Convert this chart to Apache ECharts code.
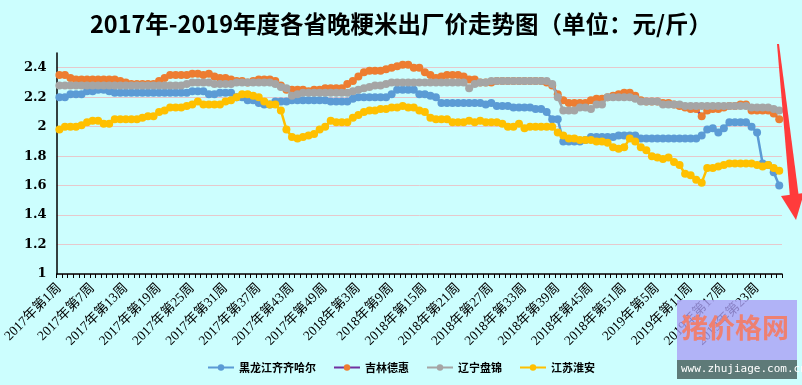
<!DOCTYPE html>
<html><head><meta charset="utf-8">
<script src="https://cdn.jsdelivr.net/npm/echarts@6/dist/echarts.min.js"></script>
<style>html,body{margin:0;padding:0;background:#ccfefe;}#c{width:802px;height:385px;}</style>
</head><body><div id="c"></div>
<script>
var titleText = '2017年-2019年度各省晚粳米出厂价走势图（单位：元/斤）';
var yearWeeks = [[2017, 52], [2018, 52], [2019, 27]];
var seriesNames = ['黑龙江齐齐哈尔', '吉林德惠', '辽宁盘锦', '江苏淮安'];

var heilongjiang = [
2.20,2.20,2.22,2.22,2.22,2.24,2.24,2.25,2.25,2.24,2.23,2.23,2.23,2.23,2.23,2.23,2.23,2.23,2.23,2.23,
2.23,2.23,2.23,2.23,2.24,2.24,2.24,2.22,2.22,2.23,2.23,2.23,2.20,2.20,2.18,2.18,2.16,2.15,2.15,2.17,
2.17,2.17,2.18,2.18,2.18,2.18,2.18,2.18,2.18,2.17,2.17,2.17,2.17,2.19,2.20,2.20,2.20,2.20,2.20,2.20,
2.22,2.25,2.25,2.25,2.25,2.22,2.22,2.21,2.20,2.16,2.16,2.16,2.16,2.16,2.16,2.16,2.16,2.15,2.16,2.14,
2.14,2.14,2.13,2.13,2.13,2.13,2.12,2.12,2.10,2.05,2.05,1.90,1.90,1.90,1.90,1.91,1.93,1.93,1.93,1.93,
1.93,1.94,1.94,1.94,1.94,1.92,1.92,1.92,1.92,1.92,1.92,1.92,1.92,1.92,1.92,1.92,1.94,1.98,1.99,1.96,
1.99,2.03,2.03,2.03,2.03,2.00,1.96,1.75,1.74,1.69,1.60];
var jilin = [
2.35,2.35,2.33,2.32,2.32,2.32,2.32,2.32,2.32,2.32,2.32,2.31,2.30,2.29,2.29,2.29,2.29,2.29,2.31,2.33,
2.35,2.35,2.35,2.35,2.36,2.36,2.35,2.36,2.34,2.33,2.33,2.32,2.31,2.31,2.30,2.31,2.32,2.32,2.32,2.31,
2.28,2.25,2.25,2.25,2.25,2.24,2.25,2.25,2.26,2.26,2.26,2.26,2.29,2.31,2.34,2.37,2.38,2.38,2.38,2.39,
2.40,2.41,2.42,2.42,2.40,2.40,2.37,2.35,2.33,2.34,2.35,2.35,2.35,2.34,2.32,2.32,2.30,2.30,2.30,2.31,
2.31,2.31,2.31,2.31,2.31,2.31,2.31,2.31,2.30,2.28,2.22,2.18,2.16,2.16,2.16,2.16,2.18,2.19,2.19,2.20,
2.21,2.22,2.23,2.23,2.21,2.18,2.17,2.17,2.17,2.16,2.16,2.15,2.14,2.13,2.12,2.12,2.07,2.11,2.12,2.12,
2.13,2.14,2.14,2.15,2.15,2.11,2.11,2.11,2.11,2.09,2.05];
var liaoning = [
2.28,2.28,2.28,2.28,2.28,2.28,2.28,2.28,2.28,2.28,2.28,2.28,2.28,2.28,2.28,2.28,2.28,2.28,2.28,2.28,
2.28,2.28,2.28,2.29,2.30,2.30,2.30,2.30,2.29,2.29,2.29,2.29,2.30,2.30,2.30,2.30,2.30,2.30,2.30,2.29,
2.27,2.26,2.21,2.22,2.23,2.23,2.23,2.23,2.23,2.23,2.23,2.23,2.23,2.24,2.25,2.26,2.27,2.28,2.28,2.29,
2.30,2.30,2.30,2.30,2.30,2.30,2.30,2.30,2.30,2.30,2.30,2.30,2.30,2.30,2.26,2.29,2.30,2.30,2.31,2.31,
2.31,2.31,2.31,2.31,2.31,2.31,2.31,2.31,2.31,2.29,2.20,2.11,2.11,2.11,2.13,2.13,2.12,2.15,2.15,2.20,
2.20,2.20,2.20,2.20,2.19,2.17,2.17,2.17,2.17,2.15,2.15,2.15,2.15,2.14,2.14,2.14,2.14,2.14,2.14,2.14,
2.14,2.14,2.14,2.14,2.14,2.13,2.13,2.13,2.13,2.12,2.11];
var jiangsu = [
1.98,2.00,2.00,2.00,2.01,2.03,2.04,2.04,2.02,2.02,2.05,2.05,2.05,2.05,2.05,2.06,2.07,2.07,2.10,2.11,
2.13,2.13,2.13,2.14,2.15,2.17,2.15,2.15,2.15,2.15,2.17,2.18,2.20,2.22,2.22,2.21,2.20,2.17,2.15,2.15,
2.11,1.98,1.93,1.92,1.93,1.94,1.95,1.98,2.00,2.04,2.03,2.03,2.03,2.06,2.08,2.10,2.11,2.11,2.12,2.12,
2.13,2.13,2.14,2.13,2.13,2.11,2.10,2.06,2.05,2.05,2.05,2.03,2.03,2.03,2.04,2.03,2.04,2.03,2.03,2.03,
2.02,2.00,2.00,2.02,1.99,2.00,2.00,2.00,2.00,2.00,1.96,1.94,1.92,1.92,1.91,1.91,1.91,1.90,1.90,1.89,
1.86,1.85,1.86,1.92,1.90,1.86,1.84,1.80,1.79,1.78,1.79,1.76,1.74,1.68,1.67,1.64,1.62,1.72,1.72,1.73,
1.74,1.75,1.75,1.75,1.75,1.75,1.74,1.73,1.74,1.72,1.70];

var categories = [];
yearWeeks.forEach(function (yw) {
  for (var w = 1; w <= yw[1]; w++) categories.push(yw[0] + '年第' + w + '周');
});

var lineColors = ['#5b9bd5', '#7030a0', '#a5a5a5', '#ffc000'];
var markColors = ['#5b9bd5', '#ed7d31', '#a5a5a5', '#ffc000'];
var dataSets = [heilongjiang, jilin, liaoning, jiangsu];

var chart = echarts.init(document.getElementById('c'), null, {renderer: 'canvas'});
chart.setOption({
  backgroundColor: '#ccfefe',
  animation: false,
  title: {
    text: titleText, left: 'center', top: 7,
    textStyle: {fontFamily: 'Noto Sans CJK SC', fontWeight: 'bold', fontSize: 23.5, color: '#000'}
  },
  legend: {
    bottom: 7, left: 'center', itemWidth: 26, itemHeight: 8, itemGap: 17,
    textStyle: {fontFamily: 'Noto Sans CJK SC', fontWeight: 'bold', fontSize: 11, color: '#000'},
    data: seriesNames
  },
  grid: {left: 55, right: 20, top: 53, bottom: 111},
  xAxis: {
    type: 'category', data: categories, boundaryGap: true,
    axisLine: {lineStyle: {color: '#000', width: 1.5}},
    axisTick: {show: true, interval: 0, length: 4, lineStyle: {color: '#000'}},
    axisLabel: {interval: 5, rotate: 45, margin: 12, color: '#000', fontSize: 13.5,
      fontFamily: "'Liberation Serif', 'Noto Sans CJK SC'"},
    splitLine: {show: false}
  },
  yAxis: {
    type: 'value', min: 1, max: 2.5, interval: 0.2,
    axisLine: {show: true, lineStyle: {color: '#000', width: 1.5}},
    axisTick: {show: false},
    axisLabel: {showMaxLabel: false, margin: 10, color: '#000', fontSize: 13, fontWeight: 'bold',
      fontFamily: "'DejaVu Serif'", formatter: function (v) { return String(Math.round(v * 10) / 10); }},
    splitLine: {show: true, showMaxLine: false, lineStyle: {color: '#e6c8cc', width: 1}}
  },
  series: seriesNames.map(function (n, k) {
    return {
      name: n, type: 'line', data: dataSets[k], symbol: 'circle', symbolSize: 8, showAllSymbol: true,
      lineStyle: {color: lineColors[k], width: 2.5},
      itemStyle: {color: markColors[k], borderWidth: 0},
      z: 2 + k
    };
  }),
  graphic: [
    {type: 'polygon', z: 100, shape: {points: [[777, 44], [779, 44], [799, 198], [790, 198]]}, style: {fill: '#ff3b3b'}},
    {type: 'polygon', z: 100, shape: {points: [[781, 196], [804, 193], [796, 220]]}, style: {fill: '#ff3b3b'}},
    {type: 'rect', z: 100, shape: {x: 677, y: 300, width: 120, height: 60}, style: {fill: 'rgba(170,160,245,0.8)'}},
    {type: 'text', z: 101, left: 681, top: 314, style: {text: '猪价格网', fill: '#ee8072', font: 'bold 27px "Noto Sans CJK SC"'}},
    {type: 'rect', z: 100, shape: {x: 677, y: 360, width: 120, height: 19}, style: {fill: '#5e7a78'}},
    {type: 'text', z: 101, left: 681, top: 364, style: {text: 'www.zhujiage.com.cn', fill: '#ffffff', font: '11px "DejaVu Sans Mono"'}}
  ]
});
</script></body></html>
